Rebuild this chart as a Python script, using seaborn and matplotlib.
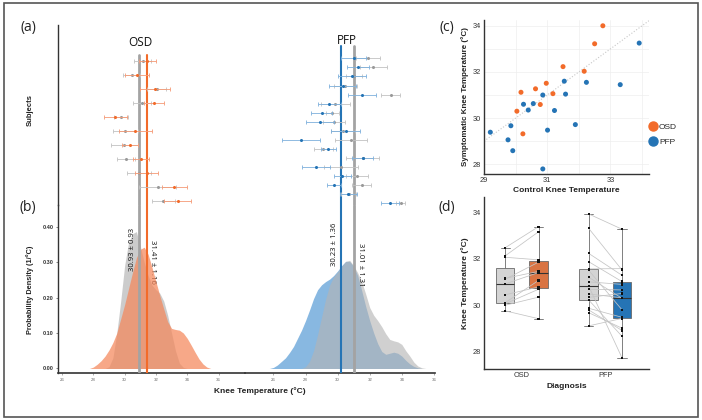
import numpy as np
import pandas as pd
import matplotlib
matplotlib.use("Agg")
import matplotlib.pyplot as plt
from matplotlib.patches import Rectangle
from matplotlib.lines import Line2D
import seaborn as sns

# ---------------- data ----------------
# per subject (rows top to bottom in panel a), mean knee temperature
osd_ctrl = [31.15, 30.44, 32.06, 31.11, 29.75, 30.05, 29.99, 30.10, 30.91, 32.12, 32.47]
osd_ctrl_sd = [0.53, 0.53, 0.60, 0.58, 0.45, 0.80, 0.85, 0.56, 0.75, 1.17, 0.72]
osd_sym = [31.45, 30.78, 31.95, 31.85, 29.41, 30.68, 30.34, 31.06, 31.40, 33.16, 33.38]
osd_sym_sd = [0.56, 0.75, 0.95, 0.64, 0.75, 1.05, 0.50, 0.50, 0.71, 0.80, 0.85]

pfp_ctrl = [31.87, 32.23, 31.00, 30.48, 33.31, 29.86, 29.67, 29.79, 30.33, 30.82,
            29.10, 31.56, 30.22, 31.20, 31.50, 30.68, 33.93]
pfp_ctrl_sd = [0.75, 0.84, 0.50, 0.71, 0.58, 0.90, 0.42, 0.68, 0.75, 0.99,
               0.60, 1.02, 1.05, 0.68, 0.58, 0.45, 0.30]
pfp_sym = [31.01, 31.28, 30.89, 30.31, 31.51, 29.47, 29.00, 28.90, 30.50, 27.72,
           29.42, 31.57, 28.65, 30.29, 29.79, 30.65, 33.27]
pfp_sym_sd = [0.78, 0.68, 0.86, 0.82, 0.87, 0.71, 0.66, 0.87, 0.89, 1.18,
              0.45, 0.66, 0.87, 0.52, 0.44, 0.53, 0.55]

# group mean +- sd (control, symptomatic)
osd_mean = [30.93, 31.41]
osd_sd = [0.93, 1.16]
pfp_mean = [31.01, 30.23]
pfp_sd = [1.31, 1.36]

# probability density of pixel temperatures (read at 0.25 degC steps)
osd_ctrl_t = np.arange(28.75, 34.01, 0.25)
osd_ctrl_d = [0, 0.005, 0.03, 0.10, 0.19, 0.29, 0.355, 0.38, 0.386, 0.345, 0.30,
              0.262, 0.235, 0.222, 0.212, 0.19, 0.15, 0.10, 0.05, 0.015, 0.003, 0]
osd_sym_t = np.arange(27.75, 35.51, 0.25)
osd_sym_d = [0, 0.004, 0.012, 0.022, 0.035, 0.052, 0.073, 0.10, 0.14, 0.18, 0.225,
             0.27, 0.312, 0.336, 0.342, 0.322, 0.285, 0.245, 0.205, 0.168, 0.132,
             0.113, 0.11, 0.108, 0.10, 0.085, 0.066, 0.046, 0.027, 0.013, 0.004, 0]
pfp_sym_t = np.arange(25.75, 35.26, 0.25)
pfp_sym_d = [0, 0.003, 0.01, 0.02, 0.03, 0.045, 0.062, 0.085, 0.108, 0.135, 0.165,
             0.197, 0.222, 0.236, 0.245, 0.252, 0.262, 0.275, 0.29, 0.302, 0.302,
             0.288, 0.262, 0.22, 0.175, 0.135, 0.10, 0.07, 0.048, 0.04, 0.043,
             0.046, 0.043, 0.035, 0.023, 0.013, 0.006, 0.002, 0]
pfp_ctrl_t = np.arange(27.75, 35.51, 0.25)
pfp_ctrl_d = [0, 0.005, 0.02, 0.05, 0.095, 0.145, 0.195, 0.235, 0.258, 0.272, 0.288,
              0.302, 0.305, 0.29, 0.27, 0.245, 0.21, 0.172, 0.15, 0.135, 0.118,
              0.098, 0.082, 0.078, 0.075, 0.068, 0.05, 0.035, 0.018, 0.007, 0.002, 0]

# panel (c) scatter: control vs symptomatic knee
sc_osd_x = [32.76, 32.50, 31.50, 32.17, 30.97, 30.17, 30.63, 31.18, 30.78, 30.04, 30.23]
sc_osd_y = [34.00, 33.22, 32.23, 32.03, 31.51, 31.12, 31.27, 31.06, 30.59, 30.30, 29.32]
sc_pfp_x = [29.20, 29.85, 29.76, 29.91, 30.25, 30.40, 30.56, 30.86, 31.01, 30.86,
            31.23, 31.54, 31.58, 31.89, 32.24, 33.31, 33.91]
sc_pfp_y = [29.39, 29.67, 29.06, 28.59, 30.60, 30.35, 30.63, 31.00, 29.48, 27.80,
            30.33, 31.60, 31.04, 29.72, 31.55, 31.45, 33.25]

# colours
ORANGE = "#F26B2A"
ORANGE_FILL = "#F4875B"
ORANGE_LIGHT = "#F59A76"
BLUE = "#2574B5"
BLUE_FILL = "#6AA6DA"
BLUE_LIGHT = "#7DB0DC"
GREY = "#A3A3A3"

sns.set_style("white")
plt.rcParams["font.family"] = ["Liberation Sans", "DejaVu Sans"]

W, H = 702, 420
fig = plt.figure(figsize=(W / 100, H / 100), dpi=100)


def rect(x0, y0, x1, y1):
    return [x0 / W, 1 - y1 / H, (x1 - x0) / W, (y1 - y0) / H]


def ftext(x, y, s, **kw):
    fig.text(x / W, 1 - y / H, s, **kw)


# ---------------- panels (a) + (b) ----------------
ax_a1 = fig.add_axes(rect(58, 25, 245, 205))
ax_a2 = fig.add_axes(rect(245, 25, 245 + 190, 205))
ax_b1 = fig.add_axes(rect(58, 205, 245, 373))
ax_b2 = fig.add_axes(rect(245, 205, 435, 373))

osd_xlim = (25.744, 37.69)
pfp_xlim = (24.226, 36.07)
dens_ylim = (-0.0127, 0.461)

for ax, xlim in [(ax_a1, osd_xlim), (ax_b1, osd_xlim), (ax_a2, pfp_xlim), (ax_b2, pfp_xlim)]:
    ax.set_xlim(*xlim)
    ax.patch.set_alpha(0)
    for s in ax.spines.values():
        s.set_visible(False)

# (a) subjects
def subject_bars(ax, ctrl, ctrl_sd, sym, sym_sd, col, light):
    rows = np.arange(len(ctrl))
    ax.errorbar(ctrl, rows, xerr=ctrl_sd, fmt="o", ms=1.2, color="#9a9a9a",
                ecolor="#c2c2c2", elinewidth=0.6, capsize=1.7, capthick=0.6, zorder=3)
    ax.errorbar(sym, rows, xerr=sym_sd, fmt="o", ms=1.2, color=col,
                ecolor=light, elinewidth=0.6, capsize=1.7, capthick=0.6, zorder=4)


subject_bars(ax_a1, osd_ctrl, osd_ctrl_sd, osd_sym, osd_sym_sd, ORANGE, ORANGE_LIGHT)
subject_bars(ax_a2, pfp_ctrl, pfp_ctrl_sd, pfp_sym, pfp_sym_sd, BLUE, BLUE_LIGHT)
ax_a1.set_ylim(10.31, -2.58)
ax_a2.set_ylim(16.19, -3.68)
for ax in (ax_a1, ax_a2):
    ax.set_xticks([])
    ax.set_yticks([])
ax_a1.spines["left"].set_visible(True)
ax_a1.spines["left"].set_color("#333333")
ax_a1.spines["left"].set_linewidth(1.0)

ax_a1.axvline(osd_mean[0], ymax=0.833, color=GREY, lw=2.0, zorder=1)
ax_a1.axvline(osd_mean[1], ymax=0.833, color=ORANGE, lw=1.5, zorder=1)
ax_a2.axvline(pfp_mean[1], ymax=0.883, color=BLUE, lw=1.5, zorder=1)
ax_a2.axvline(pfp_mean[0], ymax=0.883, color=GREY, lw=2.0, zorder=1)

# (b) densities
ax_b1.fill_between(osd_ctrl_t, osd_ctrl_d, color="#C4C4C4", alpha=0.85, lw=0, zorder=1)
ax_b1.fill_between(osd_sym_t, osd_sym_d, color=ORANGE_FILL, alpha=0.72, lw=0, zorder=3)
ax_b2.fill_between(pfp_sym_t, pfp_sym_d, color=BLUE_FILL, alpha=0.8, lw=0, zorder=1)
ax_b2.fill_between(pfp_ctrl_t, pfp_ctrl_d, color="#B4B4B4", alpha=0.62, lw=0, zorder=2)

ax_b1.axvline(osd_mean[0], color=GREY, lw=2.0, zorder=4)
ax_b1.axvline(osd_mean[1], color=ORANGE, lw=1.5, zorder=4)
ax_b2.axvline(pfp_mean[1], color=BLUE, lw=1.5, zorder=4)
ax_b2.axvline(pfp_mean[0], color=GREY, lw=2.0, zorder=4)

stat_kw = dict(ha="center", va="center", fontsize=5.6, color="#111111",
               family=["Open Sans", "DejaVu Sans"])
ax_b1.text(osd_mean[0] - 0.4, 0.336, f"{osd_mean[0]:.2f} ± {osd_sd[0]:.2f}", rotation=90, zorder=2, **stat_kw)
ax_b1.text(osd_mean[1] + 0.4, 0.300, f"{osd_mean[1]:.2f} ± {osd_sd[1]:.2f}", rotation=270, zorder=2, **stat_kw)
ax_b2.text(pfp_mean[1] - 0.43, 0.351, f"{pfp_mean[1]:.2f} ± {pfp_sd[1]:.2f}", rotation=90, zorder=5, **stat_kw)
ax_b2.text(pfp_mean[0] + 0.43, 0.292, f"{pfp_mean[0]:.2f} ± {pfp_sd[0]:.2f}", rotation=270, zorder=5, **stat_kw)

for ax in (ax_b1, ax_b2):
    ax.set_ylim(*dens_ylim)
    ax.spines["bottom"].set_visible(True)
    ax.spines["bottom"].set_color("#333333")
    ax.spines["bottom"].set_linewidth(1.2)
    ax.set_xticks(np.arange(26, 37, 2))
    ax.tick_params(axis="x", labelsize=3.2, labelcolor="#666666", length=1.5,
                   width=0.5, color="#888888", pad=2, bottom=True)
ax_b2.set_yticks([])
ax_b1.spines["left"].set_visible(True)
ax_b1.spines["left"].set_color("#333333")
ax_b1.spines["left"].set_linewidth(1.0)
ax_b1.set_yticks([0, 0.1, 0.2, 0.3, 0.4])
ax_b1.set_yticklabels(["0.00", "0.10", "0.20", "0.30", "0.40"], fontweight="bold")
ax_b1.tick_params(axis="y", labelsize=4, labelcolor="#333333", length=1.8,
                  width=0.5, color="#555555", pad=1.2, left=True)

ftext(28, 28, "(a)", fontsize=10, ha="center", va="center", color="#222222",
      family=["Open Sans", "DejaVu Sans"])
ftext(28, 207, "(b)", fontsize=10, ha="center", va="center", color="#222222",
      family=["Open Sans", "DejaVu Sans"])
ftext(140, 42, "OSD", fontsize=8.5, ha="center", va="center", color="#111111",
      family=["Open Sans", "DejaVu Sans"])
ftext(347, 40, "PFP", fontsize=8.5, ha="center", va="center", color="#111111",
      family=["Open Sans", "DejaVu Sans"])
ftext(30, 110, "Subjects", fontsize=5.5, fontweight="bold", rotation=90,
      ha="center", va="center", color="#222222")
ftext(30, 290, "Probability Density (1/°C)", fontsize=5.3, fontweight="bold",
      rotation=90, ha="center", va="center", color="#222222")
ftext(260, 391, "Knee Temperature (°C)", fontsize=6, fontweight="bold",
      ha="center", va="center", color="#222222")

# ---------------- panel (c) ----------------
ax_c = fig.add_axes(rect(484, 20, 649, 174))
sc_df = pd.DataFrame({
    "Control": sc_osd_x + sc_pfp_x,
    "Symptomatic": sc_osd_y + sc_pfp_y,
    "Diagnosis": ["OSD"] * len(sc_osd_x) + ["PFP"] * len(sc_pfp_x),
})
ax_c.axline((30, 30), slope=1, ls=":", color="#c8c8c8", lw=0.8, zorder=1)
sns.scatterplot(data=sc_df, x="Control", y="Symptomatic", hue="Diagnosis",
                palette={"OSD": ORANGE, "PFP": BLUE}, s=13, edgecolor="none",
                legend=False, ax=ax_c, zorder=3)
ax_c.set_xlim(29.0, 34.22)
ax_c.set_ylim(27.58, 34.25)
ax_c.set_xticks([29, 31, 33])
ax_c.set_yticks([28, 30, 32, 34])
ax_c.set_xticks(np.arange(30, 35, 1), minor=True)
ax_c.set_yticks(np.arange(29, 35, 1), minor=True)
ax_c.grid(True, which="both", color="#eeeeee", lw=0.5)
ax_c.set_axisbelow(True)
ax_c.set_xlabel("Control Knee Temperature", fontsize=6, fontweight="bold",
                color="#222222", labelpad=2)
ax_c.set_ylabel("Symptomatic Knee Temperature (°C)", fontsize=5.8,
                fontweight="bold", color="#222222", labelpad=3)
handles = [Line2D([], [], marker="o", ls="", color=ORANGE, ms=6.5),
           Line2D([], [], marker="o", ls="", color=BLUE, ms=6.5)]
ax_c.legend(handles, ["OSD", "PFP"], loc="center left", bbox_to_anchor=(0.97, 0.255),
            frameon=False, fontsize=6, handletextpad=0.1, labelspacing=0.8,
            borderpad=0, handlelength=1.2)

# ---------------- panel (d) ----------------
ax_d = fig.add_axes(rect(484, 197, 649, 369))
box_df = pd.DataFrame({
    "Diagnosis": ["OSD"] * (2 * len(osd_ctrl)) + ["PFP"] * (2 * len(pfp_ctrl)),
    "Side": ["Control"] * len(osd_ctrl) + ["Symptomatic"] * len(osd_sym)
            + ["Control"] * len(pfp_ctrl) + ["Symptomatic"] * len(pfp_sym),
    "Temp": osd_ctrl + osd_sym + pfp_ctrl + pfp_sym,
})
sns.boxplot(data=box_df, x="Diagnosis", y="Temp", hue="Side",
            palette={"Control": "#D4D4D4", "Symptomatic": ORANGE},
            width=0.8, gap=0.45, whis=(0, 100), linewidth=0.6, linecolor="#6a6a6a",
            medianprops=dict(color="#333333", lw=0.8),
            showfliers=False, legend=False, ax=ax_d)
# PFP symptomatic box in blue
for p in ax_d.patches:
    ext = p.get_path().get_extents()
    if (ext.x0 + ext.x1) / 2 > 1.05:
        p.set_facecolor(BLUE)

for i, (ctrl, sym) in enumerate([(osd_ctrl, osd_sym), (pfp_ctrl, pfp_sym)]):
    for c, s in zip(ctrl, sym):
        ax_d.plot([i - 0.2, i + 0.2], [c, s], color="#c4c4c4", lw=0.55, zorder=5)

sns.stripplot(data=box_df, x="Diagnosis", y="Temp", hue="Side", dodge=True,
              jitter=False, palette={"Control": "#111111", "Symptomatic": "#111111"},
              marker="s", size=1.6, legend=False, ax=ax_d, zorder=6)
ax_d.set_xlim(-0.453, 1.523)
ax_d.set_ylim(27.24, 34.66)
ax_d.set_yticks([28, 30, 32, 34])
ax_d.set_xlabel("Diagnosis", fontsize=6, fontweight="bold", color="#222222", labelpad=3)
ax_d.set_ylabel("Knee Temperature (°C)", fontsize=6, fontweight="bold",
                color="#222222", labelpad=3)

for ax in (ax_c, ax_d):
    sns.despine(ax=ax)
    ax.spines["left"].set_color("#333333")
    ax.spines["bottom"].set_color("#333333")
    ax.spines["left"].set_linewidth(1.0)
    ax.spines["bottom"].set_linewidth(1.0)
    ax.tick_params(labelsize=5.3, labelcolor="#333333", length=0, pad=2)

ftext(447, 28, "(c)", fontsize=10, ha="center", va="center", color="#222222",
      family=["Open Sans", "DejaVu Sans"])
ftext(447, 208, "(d)", fontsize=10, ha="center", va="center", color="#222222",
      family=["Open Sans", "DejaVu Sans"])

# outer frame
fig.patches.append(Rectangle((4 / W, 1 - 417 / H), 694 / W, 414 / H,
                             transform=fig.transFigure, fill=False,
                             edgecolor="#555555", lw=1.2))

fig.savefig("out.png", dpi=100)
